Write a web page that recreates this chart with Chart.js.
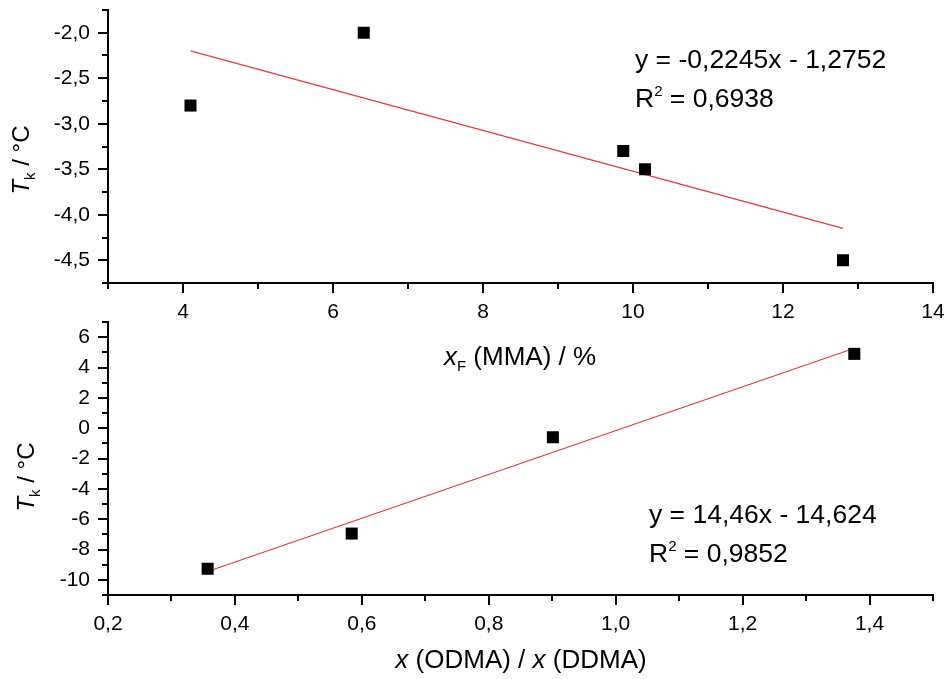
<!DOCTYPE html>
<html><head><meta charset="utf-8">
<script src="https://cdn.jsdelivr.net/npm/chart.js@4/dist/chart.umd.min.js"></script>
<style>
html,body{margin:0;padding:0;background:#fff;}
#wrap{position:relative;width:948px;height:679px;}
canvas{position:absolute;left:0;top:0;}
</style>
</head><body>
<div id="wrap"><canvas id="c1" width="948" height="679"></canvas><canvas id="c2" width="948" height="679"></canvas></div>
<script>
// ---- data ----
const topX = [4.1, 6.41, 9.87, 10.16, 12.8];
const topY = [-2.8, -2.0, -3.3, -3.5, -4.5];
const topFitX = [4.1, 12.8];
const topFitY = [-2.2, -4.15];
const botX = [0.357, 0.584, 0.901, 1.376];
const botY = [-9.27, -6.95, -0.6, 4.9];
const botFitX = [0.357, 1.376];
const botFitY = [-9.45, 5.27];
// ---- ticks ----
const topXTicks = [4, 6, 8, 10, 12, 14];
const topXMinor = [3, 5, 7, 9, 11, 13];
const topYTicks = [-2.0, -2.5, -3.0, -3.5, -4.0, -4.5];
const topYMinor = [-1.75, -2.25, -2.75, -3.25, -3.75, -4.25, -4.75];
const botXTicks = [0.2, 0.4, 0.6, 0.8, 1.0, 1.2, 1.4];
const botXMinor = [0.3, 0.5, 0.7, 0.9, 1.1, 1.3, 1.5];
const botYTicks = [6, 4, 2, 0, -2, -4, -6, -8, -10];
const botYMinor = [7, 5, 3, 1, -1, -3, -5, -7, -9, -11];
// ---- texts ----
const topEquation = 'y = -0,2245x - 1,2752';
const topR2 = '0,6938';
const botEquation = 'y = 14,46x - 14,624';
const botR2 = '0,9852';

const FONT = "'Liberation Sans', Arial, sans-serif";
const comma1 = v => v.toFixed(1).replace('.', ',');
const intFmt = v => String(Math.round(v));

const tickMarks = {
  id: 'tickMarks',
  afterDraw(chart, args, o) {
    const ctx = chart.ctx, xs = chart.scales.x, ys = chart.scales.y, a = chart.chartArea;
    ctx.save(); ctx.strokeStyle = '#000'; ctx.lineWidth = 2;
    const dx = (vals, len) => vals.forEach(v => { const p = Math.round(xs.getPixelForValue(v)); ctx.beginPath(); ctx.moveTo(p, a.bottom); ctx.lineTo(p, a.bottom + len); ctx.stroke(); });
    const dy = (vals, len) => vals.forEach(v => { const p = Math.round(ys.getPixelForValue(v)); ctx.beginPath(); ctx.moveTo(a.left, p); ctx.lineTo(a.left - len, p); ctx.stroke(); });
    dx(o.xMajor, 10); dx(o.xMinor, 6); dy(o.yMajor, 10); dy(o.yMinor, 6);
    ctx.restore();
  }
};

function richWidth(ctx, parts) {
  let w = 0;
  parts.forEach(p => { ctx.font = (p.italic ? 'italic ' : '') + p.size + 'px ' + FONT; w += ctx.measureText(p.t).width; });
  return w;
}
function drawRich(ctx, parts, x, y, align) {
  let cx = x;
  if (align === 'center') cx = x - richWidth(ctx, parts) / 2;
  ctx.textAlign = 'left'; ctx.textBaseline = 'alphabetic'; ctx.fillStyle = '#000';
  parts.forEach(p => {
    ctx.font = (p.italic ? 'italic ' : '') + p.size + 'px ' + FONT;
    ctx.fillText(p.t, cx, y + (p.dy || 0));
    cx += ctx.measureText(p.t).width;
  });
}
const texts = {
  id: 'texts',
  afterDraw(chart, args, o) {
    const ctx = chart.ctx;
    ctx.save();
    (o.items || []).forEach(it => {
      if (it.rotate) {
        ctx.save(); ctx.translate(it.x, it.y); ctx.rotate(-Math.PI / 2);
        drawRich(ctx, it.parts, 0, 0, it.align); ctx.restore();
      } else drawRich(ctx, it.parts, it.x, it.y, it.align);
    });
    ctx.restore();
  }
};

function axis(min, max, ticksArr, fmt, isX, fixed, pad) {
  return {
    type: 'linear', min, max,
    grid: { display: false, drawTicks: false },
    border: { display: true, color: '#000', width: 2 },
    ticks: { color: '#000', font: { family: FONT, size: 21 }, padding: pad, autoSkip: false, maxRotation: 0, callback: v => fmt(v) },
    afterBuildTicks: s => { s.ticks = ticksArr.map(v => ({ value: v })); },
    afterFit: s => {
      if (isX) s.height = fixed; else s.width = fixed;
      s.paddingTop = 0; s.paddingBottom = 0; s.paddingLeft = 0; s.paddingRight = 0;
    }
  };
}

function makeChart(id, px, py, fx, fy, xs, ys, padTop, marks, items) {
  return new Chart(document.getElementById(id), {
    type: 'scatter',
    data: { datasets: [
      { data: fx.map((x, i) => ({ x, y: fy[i] })), showLine: true, borderColor: '#e03a3a', borderWidth: 1.2, pointRadius: 0, order: 2 },
      { data: px.map((x, i) => ({ x, y: py[i] })), pointStyle: 'rect', pointRadius: 8.5, pointHoverRadius: 8.5, backgroundColor: '#000', borderColor: '#000', borderWidth: 0, order: 1 }
    ] },
    options: {
      responsive: false, devicePixelRatio: 1, animation: false, events: [],
      layout: { padding: { top: padTop, right: 15, left: 0, bottom: 0 } },
      clip: false,
      scales: { x: xs, y: ys },
      plugins: { legend: { display: false }, tooltip: { enabled: false }, tickMarks: marks, texts: { items } }
    },
    plugins: [tickMarks, texts]
  });
}

makeChart('c1', topX, topY, topFitX, topFitY,
  axis(3, 14, topXTicks, intFmt, true, 396, 17),
  axis(-4.75, -1.75, topYTicks, comma1, false, 108, 18),
  10,
  { xMajor: topXTicks, xMinor: topXMinor, yMajor: topYTicks, yMinor: topYMinor },
  [
    { x: 635, y: 68, parts: [{ t: topEquation, size: 26.5 }] },
    { x: 635, y: 107, parts: [{ t: 'R', size: 26.5 }, { t: '2', size: 15, dy: -11 }, { t: ' = ' + topR2, size: 26.5 }] },
    { x: 520, y: 365, align: 'center', parts: [{ t: 'x', size: 26, italic: true }, { t: 'F', size: 15, dy: 6 }, { t: ' (MMA) / %', size: 26 }] },
    { x: 29, y: 160, rotate: true, align: 'center', parts: [{ t: 'T', size: 24, italic: true }, { t: 'k', size: 15, dy: 6 }, { t: ' / °C', size: 24 }] }
  ]);

makeChart('c2', botX, botY, botFitX, botFitY,
  axis(0.2, 1.5, botXTicks, comma1, true, 84, 17),
  axis(-11, 7, botYTicks, intFmt, false, 108, 18),
  322,
  { xMajor: botXTicks, xMinor: botXMinor, yMajor: botYTicks, yMinor: botYMinor },
  [
    { x: 649, y: 523, parts: [{ t: botEquation, size: 26.5 }] },
    { x: 649, y: 562, parts: [{ t: 'R', size: 26.5 }, { t: '2', size: 15, dy: -11 }, { t: ' = ' + botR2, size: 26.5 }] },
    { x: 521, y: 668, align: 'center', parts: [{ t: 'x', size: 26, italic: true }, { t: ' (ODMA) / ', size: 26 }, { t: 'x', size: 26, italic: true }, { t: ' (DDMA)', size: 26 }] },
    { x: 34, y: 477, rotate: true, align: 'center', parts: [{ t: 'T', size: 24, italic: true }, { t: 'k', size: 15, dy: 6 }, { t: ' / °C', size: 24 }] }
  ]);
</script>
</body></html>
